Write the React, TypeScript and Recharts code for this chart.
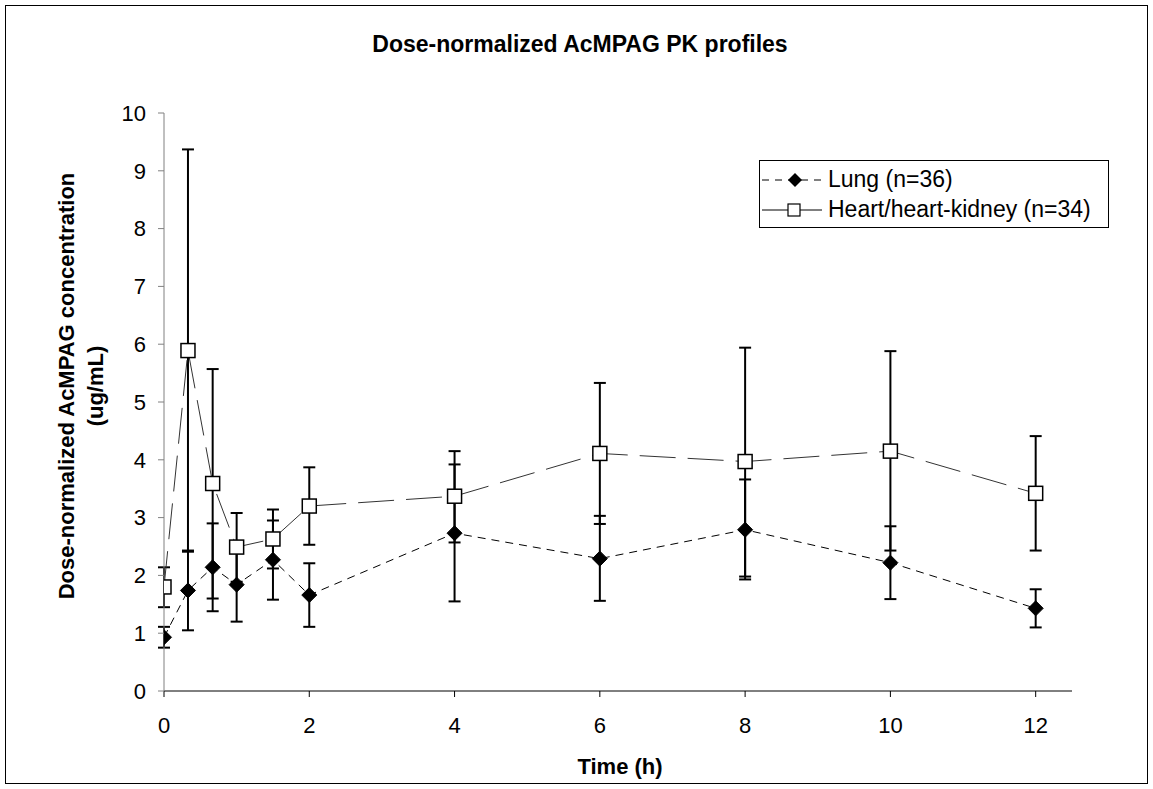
import React from "react";
import { LineChart, Line, XAxis, YAxis, ErrorBar } from "recharts";

const times = [0, 0.33, 0.67, 1, 1.5, 2, 4, 6, 8, 10, 12];

const lungMean = [0.93, 1.74, 2.14, 1.84, 2.27, 1.66, 2.73, 2.29, 2.79, 2.22, 1.43];
const lungLow = [0.75, 1.05, 1.38, 1.2, 1.58, 1.11, 1.55, 1.56, 1.93, 1.59, 1.1];
const lungHigh = [1.11, 2.43, 2.9, 2.48, 2.95, 2.21, 3.92, 3.03, 3.66, 2.85, 1.76];

const heartMean = [1.8, 5.89, 3.59, 2.49, 2.63, 3.2, 3.37, 4.11, 3.97, 4.15, 3.42];
const heartLow = [1.45, 2.41, 1.6, 1.89, 2.12, 2.53, 2.57, 2.89, 1.98, 2.43, 2.43];
const heartHigh = [2.14, 9.37, 5.57, 3.08, 3.14, 3.87, 4.15, 5.33, 5.94, 5.88, 4.41];

const xTicks = [0, 2, 4, 6, 8, 10, 12];
const yTicks = [0, 1, 2, 3, 4, 5, 6, 7, 8, 9, 10];

const data = times.map((t, i) => ({
  t,
  lung: lungMean[i],
  lungErr: [lungMean[i] - lungLow[i], lungHigh[i] - lungMean[i]],
  heart: heartMean[i],
  heartErr: [heartMean[i] - heartLow[i], heartHigh[i] - heartMean[i]],
}));

const FONT = "'Liberation Sans', Arial, sans-serif";

const Diamond = (props: any) => {
  const { cx, cy } = props;
  if (cx == null || cy == null) return null;
  const r = 7.5;
  return (
    <polygon
      points={`${cx},${cy - r} ${cx + r},${cy} ${cx},${cy + r} ${cx - r},${cy}`}
      fill="#000"
      stroke="#000"
    />
  );
};

const Square = (props: any) => {
  const { cx, cy } = props;
  if (cx == null || cy == null) return null;
  return <rect x={cx - 7} y={cy - 7} width={14} height={14} fill="#fff" stroke="#000" strokeWidth={1.5} />;
};

export default function App() {
  return (
    <div style={{ position: "absolute", left: 0, top: 0, width: 1153, height: 789, background: "#fff", fontFamily: FONT }}>
      <div style={{ position: "absolute", left: 5, top: 5, width: 1141, height: 777, border: "1px solid #000" }} />

      <div style={{ position: "absolute", left: 280, width: 600, top: 31, textAlign: "center", fontWeight: "bold", fontSize: 23 }}>
        Dose-normalized AcMPAG PK profiles
      </div>

      <div
        style={{
          position: "absolute",
          left: 82 - 300,
          top: 386 - 30,
          width: 600,
          height: 60,
          transform: "rotate(-90deg)",
          textAlign: "center",
          fontWeight: "bold",
          fontSize: 22,
          lineHeight: "29px",
        }}
      >
        Dose-normalized AcMPAG concentration
        <br />
        (ug/mL)
      </div>

      <div style={{ position: "absolute", left: 520, width: 200, top: 754, textAlign: "center", fontWeight: "bold", fontSize: 22 }}>
        Time (h)
      </div>

      <LineChart
        width={1153}
        height={789}
        data={data}
        margin={{ top: 113, right: 81, bottom: 0, left: 0 }}
        style={{ position: "absolute", left: 0, top: 0 }}
      >
        <XAxis
          dataKey="t"
          type="number"
          domain={[0, 12.5]}
          ticks={xTicks}
          height={98}
          tickSize={6}
          tickMargin={20}
          axisLine={{ stroke: "#000" }}
          tickLine={{ stroke: "#000" }}
          tick={{ fill: "#000", fontSize: 22, fontFamily: FONT }}
          allowDataOverflow
        />
        <YAxis
          type="number"
          domain={[0, 10]}
          ticks={yTicks}
          width={164}
          tickSize={6}
          tickMargin={12}
          axisLine={{ stroke: "#808080" }}
          tickLine={{ stroke: "#808080" }}
          tick={{ fill: "#000", fontSize: 22, fontFamily: FONT }}
        />
        <Line
          dataKey="heart"
          stroke="#333"
          strokeWidth={1}
          strokeDasharray="36 12"
          type="linear"
          dot={<Square />}
          activeDot={false}
          isAnimationActive={false}
        >
          <ErrorBar dataKey="heartErr" direction="y" width={6} stroke="#000" strokeWidth={2} />
        </Line>
        <Line
          dataKey="lung"
          stroke="#000"
          strokeWidth={1}
          strokeDasharray="8 6"
          type="linear"
          dot={<Diamond />}
          activeDot={false}
          isAnimationActive={false}
        >
          <ErrorBar dataKey="lungErr" direction="y" width={6} stroke="#000" strokeWidth={2} />
        </Line>
      </LineChart>

      <div style={{ position: "absolute", left: 759, top: 160, width: 348, height: 66, border: "1px solid #000", background: "#fff" }}>
        <svg width={70} height={66} style={{ position: "absolute", left: 0, top: 0 }}>
          <line x1={2} y1={19} x2={62} y2={19} stroke="#000" strokeDasharray="7 6" />
          <polygon points="35,12 42,19 35,26 28,19" fill="#000" />
          <line x1={2} y1={49} x2={62} y2={49} stroke="#000" />
          <rect x={28} y={43} width={12} height={12} fill="#fff" stroke="#000" strokeWidth={1.2} />
        </svg>
        <div style={{ position: "absolute", left: 68, top: 5, fontSize: 23, whiteSpace: "nowrap" }}>Lung (n=36)</div>
        <div style={{ position: "absolute", left: 68, top: 35, fontSize: 23, whiteSpace: "nowrap" }}>Heart/heart-kidney (n=34)</div>
      </div>
    </div>
  );
}
